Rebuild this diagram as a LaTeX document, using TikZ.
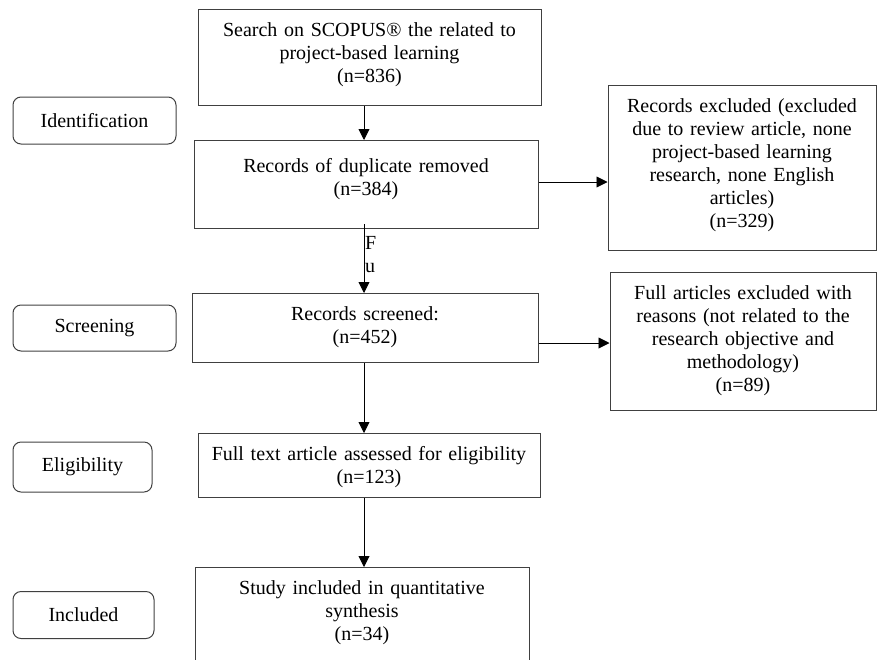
\documentclass[tikz,border=0pt]{standalone}
\usepackage{fontspec}
\setmainfont{Liberation Serif}
\usepackage{tikz}
\usetikzlibrary{arrows.meta,positioning,calc}

\begin{document}
\begin{tikzpicture}[x=1pt,y=1pt,
  every node/.style={font=\fontsize{20}{23}\selectfont},
  stepbox/.style={draw=black!75,line width=1pt,align=center,anchor=north,inner xsep=0pt,inner ysep=0pt,text height=27pt},
  phase/.style={draw=black!75,line width=1pt,rounded corners=8pt,align=center,inner sep=0pt},
  arr/.style={-{Triangle[length=11pt,width=11pt]},line width=0.9pt}]
  \useasboundingbox (0,0) rectangle (877,-659); % 画像全体の範囲
  \coordinate (axis) at (364,0); % 縦の矢印が通る位置
  \node[stepbox,text width=343pt,text depth=69pt] (search) at (369.5,-9) {Search on SCOPUS® the related to\\project-based learning\\(n=836)}; % 検索
  \node[stepbox,text width=344pt,text height=32pt,text depth=56pt] (dup) at (366,-140) {Records of duplicate removed\\(n=384)}; % 重複除去
  \node[stepbox,text width=346pt,text depth=42pt] (scr) at (365,-293) {Records screened:\\(n=452)}; % スクリーニング
  \node[stepbox,text width=342pt,text depth=37pt] (elig) at (369,-433) {Full text article assessed for eligibility\\(n=123)}; % 適格性
  \node[stepbox,text width=334pt,text depth=73pt] (incl) at (362,-567) {Study included in quantitative\\synthesis\\(n=34)}; % 採用
  \node[stepbox,text width=268pt,text depth=138pt] (excl) at (742,-85) {Records excluded (excluded\\due to review article, none\\project-based learning\\research, none English\\articles)\\(n=329)}; % 除外1
  \node[stepbox,text width=266pt,text depth=111pt] (full) at (743,-272) {Full articles excluded with\\reasons (not related to the\\research objective and\\methodology)\\(n=89)}; % 除外2
  \node[phase,minimum width=163pt,minimum height=47pt] (pIdent) at (94.5,-120.5) {Identification}; % 段階1
  \node[phase,minimum width=163pt,minimum height=46pt] (pScr) at (94.5,-328) {Screening}; % 段階2
  \node[phase,minimum width=139pt,minimum height=50pt] (pElig) at (82.5,-467) {Eligibility}; % 段階3
  \node[phase,minimum width=141pt,minimum height=47pt] (pIncl) at (83.5,-615) {Included}; % 段階4
  \node[anchor=west,inner sep=0pt] (lblF) at (365,-243) {F}; % 線の横の文字
  \node[anchor=west,inner sep=0pt] (lblU) at (365,-268) {u}; % 線の横の文字
  \draw[arr] (search.south -| axis) -- (dup.north -| axis); % 検索→重複除去
  \draw[arr] ([yshift=5pt]dup.south -| axis) -- (scr.north -| axis); % 重複除去→スクリーニング
  \draw[arr] (scr.south -| axis) -- (elig.north -| axis); % スクリーニング→適格性
  \draw[arr] (elig.south -| axis) -- (incl.north -| axis); % 適格性→採用
  \draw[arr] (dup.east |- 0,-182) -- (excl.west |- 0,-182); % 除外1へ
  \draw[arr] (scr.east |- 0,-343) -- (full.west |- 0,-343); % 除外2へ
\end{tikzpicture}
\end{document}
